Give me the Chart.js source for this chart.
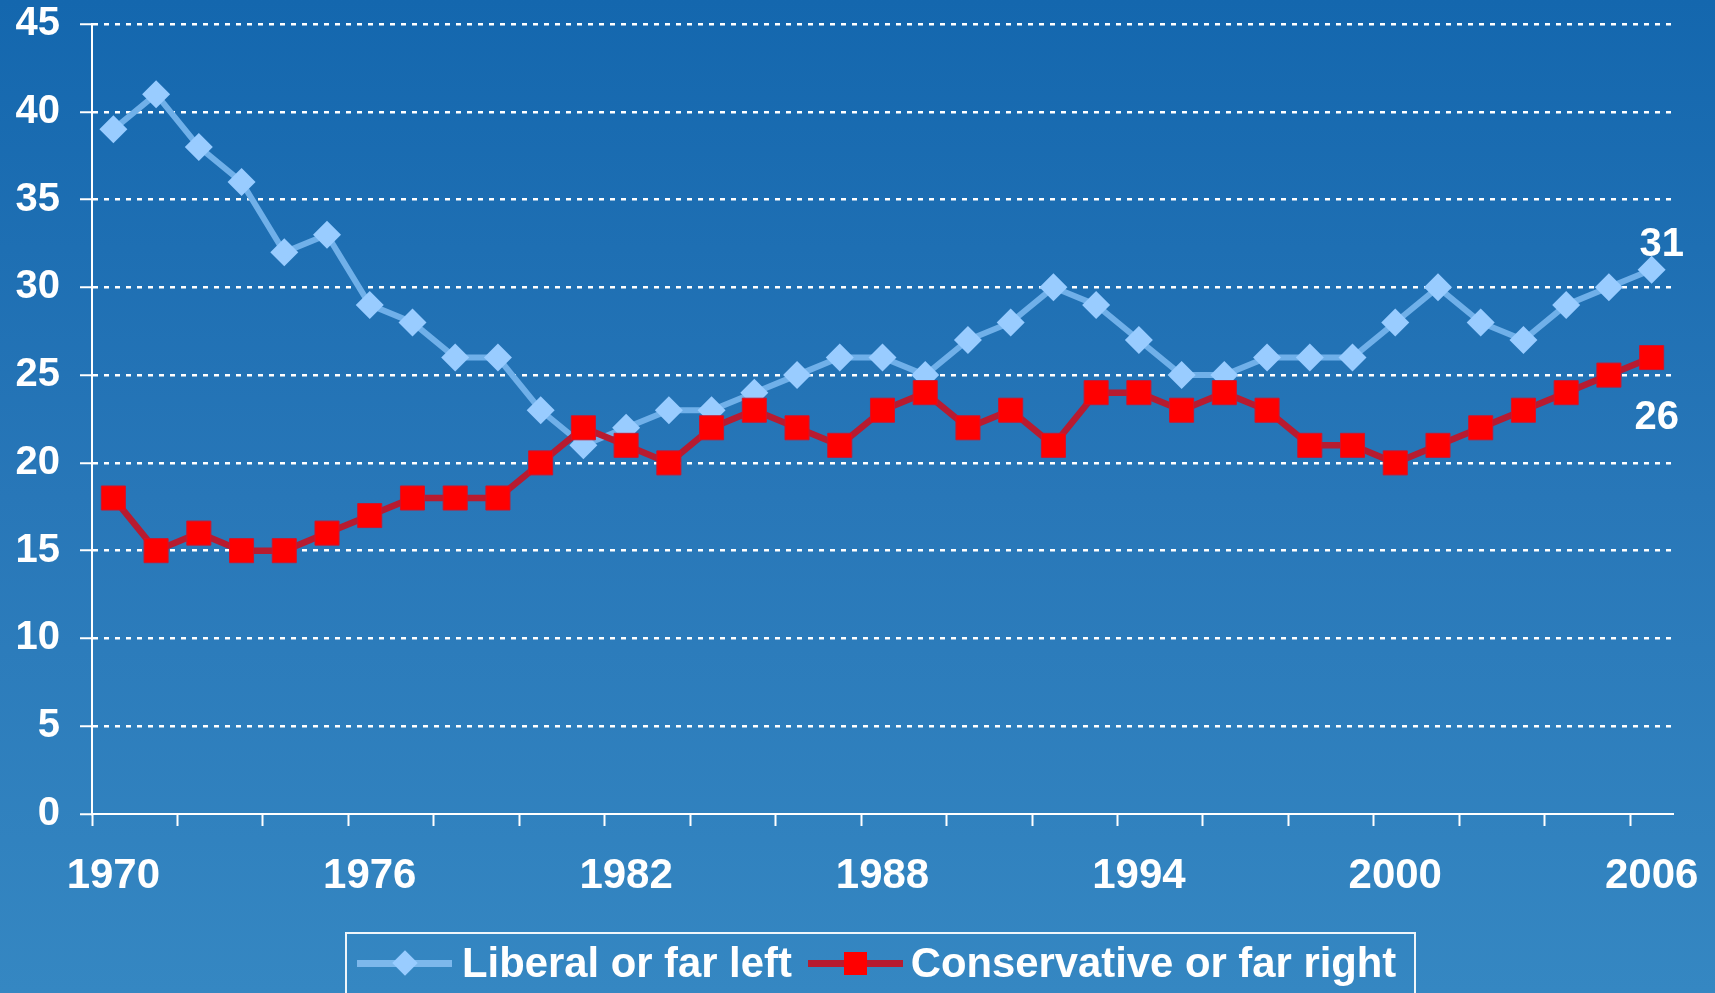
<!DOCTYPE html>
<html>
<head>
<meta charset="utf-8">
<script src="https://cdn.jsdelivr.net/npm/chart.js@4.4.1/dist/chart.umd.min.js"></script>
<style>
  html, body { margin: 0; padding: 0; overflow: hidden; }
  body {
    width: 1715px; height: 993px; position: relative;
    background: linear-gradient(to bottom, #1467ae 0%, #2877b8 50%, #3587c2 100%);
    font-family: 'Liberation Sans', Arial, sans-serif;
  }
  #wrap { position: absolute; left: 0; top: 0; width: 1715px; height: 993px; }
  #legend {
    position: absolute; left: 345px; top: 932px; width: 1071px; height: 90px;
    box-sizing: border-box; border: 2px solid rgba(255,255,255,0.92);
  }
  #legend .row {
    position: absolute; left: 0; top: 0; height: 58px; padding-left: 10px;
    display: flex; align-items: center; white-space: nowrap;
  }
  .sample { position: relative; width: 95px; height: 7px; }
  .sample .mk { position: absolute; left: 50%; top: 50%; }
  .lib-line { background: #7db8ec; }
  .lib-line .mk { width: 18px; height: 18px; margin: -9px 0 0 -9px; background: #99ccff; transform: rotate(45deg); }
  .con-line { background: #b81b30; }
  .con-line .mk { width: 23px; height: 23px; margin: -11.5px 0 0 -11.5px; background: #ff0000; }
  .lbl { color: #fff; font-weight: bold; font-size: 41.8px; line-height: 1; }
</style>
</head>
<body>
<div id="wrap"><canvas id="chart-trend"></canvas></div>
<div id="legend">
  <div class="row">
    <div class="sample lib-line"><div class="mk"></div></div>
    <span class="lbl" style="margin-left:10px">Liberal or far left</span>
    <div class="sample con-line" style="margin-left:16px"><div class="mk"></div></div>
    <span class="lbl" style="margin-left:8px">Conservative or far right</span>
  </div>
</div>
<script>
// ---- Data ----

const years = ['1970','1971','1972','1973','1974','1975','1976','1977','1978','1979',
  '1980','1981','1982','1983','1984','1985','1986','1987','1988','1989',
  '1990','1991','1992','1993','1994','1995','1996','1997','1998','1999',
  '2000','2001','2002','2003','2004','2005','2006']

const liberal = [39, 41, 38, 36, 32, 33, 29, 28, 26, 26,
  23, 21, 22, 23, 23, 24, 25, 26, 26, 25,
  27, 28, 30, 29, 27, 25, 25, 26, 26, 26,
  28, 30, 28, 27, 29, 30, 31]

const conservative = [18, 15, 16, 15, 15, 16, 17, 18, 18, 18,
  20, 22, 21, 20, 22, 23, 22, 21, 23, 24,
  22, 23, 21, 24, 24, 23, 24, 23, 21, 21,
  20, 21, 22, 23, 24, 25, 26]

const yTicks = [0, 5, 10, 15, 20, 25, 30, 35, 40, 45]

const FONT = "'Liberation Sans', Arial, sans-serif"

// ---- End-of-series value labels ----

const endLabels = {
  id: 'endLabels',
  afterDatasetsDraw(chart) {
    const { ctx } = chart
    const x = chart.scales.x
    const y = chart.scales.y
    const last = years.length - 1
    ctx.save()
    ctx.fillStyle = '#fff'
    ctx.font = `bold 40px ${FONT}`
    ctx.textAlign = 'center'
    ctx.textBaseline = 'middle'
    ctx.fillText(String(liberal[last]), x.getPixelForValue(last) + 10, y.getPixelForValue(liberal[last]) - 25)
    ctx.fillText(String(conservative[last]), x.getPixelForValue(last) + 5, y.getPixelForValue(conservative[last]) + 60)
    ctx.restore()
  }
}

// ---- Chart ----

function renderTrendChart() {
  const ctx = document.getElementById('chart-trend').getContext('2d')

  new Chart(ctx, {
    type: 'line',
    data: {
      labels: years,
      datasets: [
        {
          label: 'Liberal or far left',
          data: liberal,
          order: 2,
          borderColor: '#70b0e9',
          borderWidth: 6,
          tension: 0,
          pointStyle: 'rectRot',
          pointRadius: 14,
          pointHoverRadius: 14,
          pointBackgroundColor: '#99ccff',
          pointBorderWidth: 0
        },
        {
          label: 'Conservative or far right',
          data: conservative,
          order: 1,
          borderColor: '#b81b30',
          borderWidth: 6.5,
          tension: 0,
          pointStyle: 'rect',
          pointRadius: 17,
          pointHoverRadius: 17,
          pointBackgroundColor: '#ff0000',
          pointBorderColor: '#d0142c',
          pointBorderWidth: 1
        }
      ]
    },
    options: {
      responsive: true,
      maintainAspectRatio: false,
      animation: false,
      layout: { padding: { top: 24, right: 42, left: 0, bottom: 0 } },
      plugins: { legend: { display: false }, tooltip: { enabled: false } },
      scales: {
        x: {
          type: 'category',
          offset: true,
          afterFit: s => { s.height = 179; s.paddingLeft = 0; s.paddingRight = 0 },
          border: { color: '#fff', width: 2 },
          grid: {
            offset: true,
            drawOnChartArea: false,
            tickLength: 12,
            tickWidth: 2,
            tickColor: c => (c.index !== undefined && c.index % 2 === 0) ? '#fff' : 'rgba(0,0,0,0)'
          },
          ticks: {
            autoSkip: false,
            maxRotation: 0,
            padding: 29,
            color: '#fff',
            font: { family: FONT, size: 42, weight: 'bold', lineHeight: 1 },
            callback: (v, i) => i % 6 === 0 ? years[i] : ''
          }
        },
        y: {
          min: 0,
          max: 45,
          afterFit: s => { s.width = 92; s.paddingTop = 0; s.paddingBottom = 0 },
          afterBuildTicks: s => { s.ticks = yTicks.map(v => ({ value: v })) },
          border: { color: '#fff', width: 2, dash: [5, 6] },
          grid: {
            color: c => (c.tick && c.tick.value === 0) ? 'rgba(0,0,0,0)' : '#fff',
            lineWidth: 2.5,
            tickLength: 12,
            tickColor: '#fff',
            tickWidth: 2,
            tickBorderDash: []
          },
          ticks: {
            padding: 20,
            color: '#fff',
            font: { family: FONT, size: 40, weight: 'bold', lineHeight: 1 }
          }
        }
      }
    },
    plugins: [endLabels]
  })
}

renderTrendChart()
</script>
</body>
</html>
